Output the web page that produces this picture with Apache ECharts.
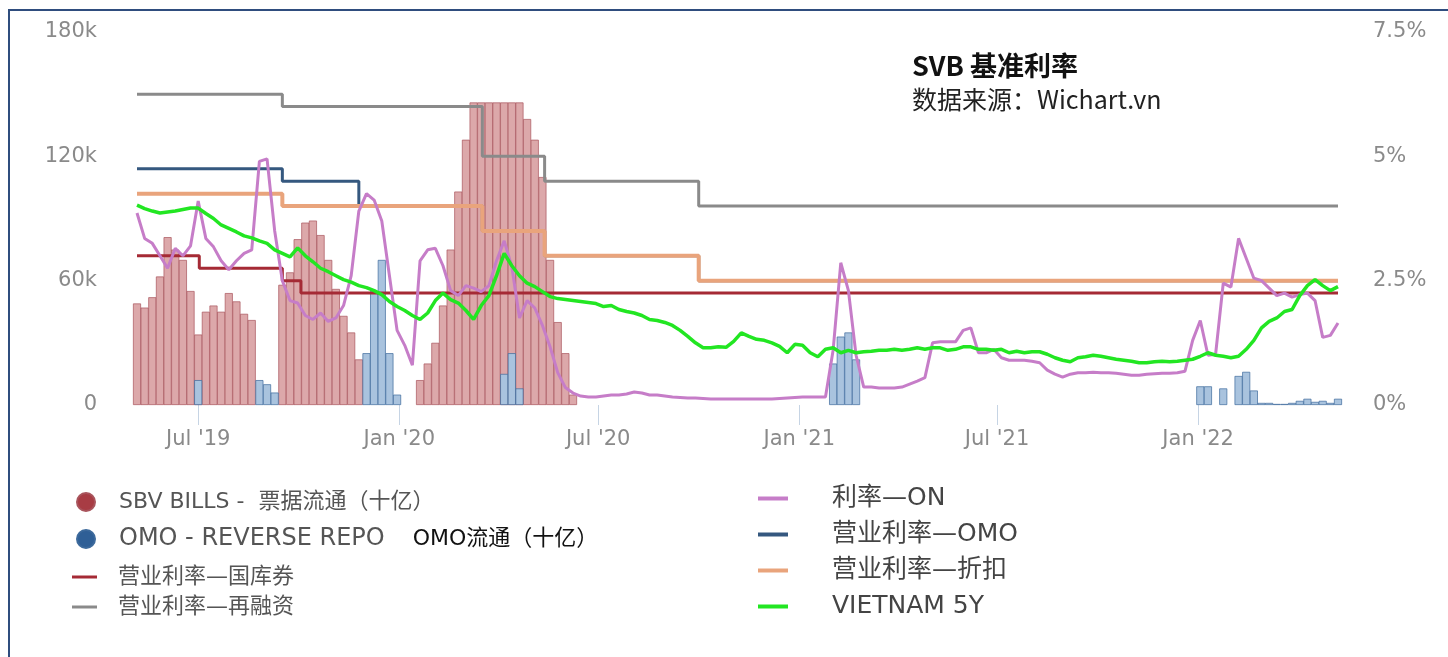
<!DOCTYPE html>
<html>
<head>
<meta charset="utf-8">
<title>SVB 基准利率</title>
<script src="https://cdn.jsdelivr.net/npm/echarts@6/dist/echarts.min.js"></script>
<style>
  html, body { margin: 0; padding: 0; background: #fff; overflow: hidden; }
  main { width: 1448px; height: 657px; }
  .frame { position: absolute; left: 8px; top: 9px; width: 1460px; height: 670px; border-left: 2px solid #2f4d7e; border-top: 2px solid #2f4d7e; pointer-events: none; }
</style>
</head>
<body>
<main></main>
<div class="frame"></div>
<script>
// weekly values, one line per month, first week = 2019-05-06
const onRate = [
  3.86, 3.35, 3.25, 3.0,
  2.75, 3.15, 3.0, 3.2,
  4.1, 3.35, 3.18, 2.9, 2.72,
  2.9, 3.05, 3.12, 4.9,
  4.95, 3.5, 2.5, 2.1, 2.05,
  1.8, 1.72, 1.85, 1.68,
  1.75, 2.0, 2.6, 3.9,
  4.25, 4.12, 3.7, 2.6, 1.5,
  1.2, 0.8, 2.9, 3.12,
  3.15, 2.8, 2.3, 2.2,
  2.4, 2.35, 2.28, 2.4, 2.9,
  3.3, 2.78, 1.75, 2.1,
  1.95, 1.6, 1.17, 0.65,
  0.35, 0.24, 0.18, 0.16, 0.16,
  0.18, 0.2, 0.2, 0.22,
  0.26, 0.24, 0.2, 0.2, 0.18,
  0.16, 0.15, 0.14, 0.14,
  0.13, 0.12, 0.12, 0.12,
  0.12, 0.12, 0.12, 0.12, 0.12,
  0.12, 0.13, 0.14, 0.15,
  0.16, 0.16, 0.16, 0.16,
  1.1, 2.86, 2.3, 1.0,
  0.36, 0.36, 0.34, 0.34, 0.34,
  0.36, 0.42, 0.48, 0.55,
  1.25, 1.27, 1.27, 1.27, 1.5,
  1.55, 1.05, 1.05, 1.12,
  0.95, 0.9, 0.9, 0.9,
  0.88, 0.85, 0.7, 0.62, 0.56,
  0.62, 0.65, 0.65, 0.66,
  0.65, 0.65, 0.64, 0.62,
  0.6, 0.6, 0.62, 0.63, 0.64,
  0.64, 0.65, 0.68, 1.3,
  1.7, 1.0, 1.02, 2.45, 2.37,
  3.35, 2.95, 2.55, 2.5,
  2.35, 2.2, 2.25, 2.17,
  2.22, 2.25, 2.1, 1.36,
  1.4, 1.65
]

const vn5y = [
  4.02, 3.95, 3.9, 3.86,
  3.88, 3.9, 3.93, 3.96,
  3.96, 3.85, 3.75, 3.62, 3.55,
  3.48, 3.4, 3.36, 3.3,
  3.25, 3.12, 3.05, 2.98, 3.16,
  3.0, 2.88, 2.75, 2.68,
  2.6, 2.52, 2.47, 2.4,
  2.36, 2.3, 2.22, 2.08, 1.98,
  1.9, 1.8, 1.72, 1.85,
  2.1, 2.25, 2.12, 2.05,
  1.9, 1.72, 2.0, 2.2, 2.6,
  3.05, 2.8, 2.6, 2.45,
  2.38, 2.28, 2.18, 2.14,
  2.12, 2.1, 2.08, 2.06, 2.04,
  1.98, 2.0, 1.92, 1.88,
  1.85, 1.8, 1.72, 1.7, 1.66,
  1.6, 1.5, 1.38, 1.25,
  1.15, 1.15, 1.17, 1.16,
  1.28, 1.45, 1.38, 1.32, 1.3,
  1.25, 1.18, 1.05, 1.22,
  1.2, 1.05, 0.97, 1.12,
  1.15, 1.05, 1.1, 1.05,
  1.07, 1.08, 1.1, 1.1, 1.12,
  1.1, 1.12, 1.15, 1.12,
  1.15, 1.15, 1.1, 1.12, 1.17,
  1.17, 1.12, 1.12, 1.1,
  1.12, 1.05, 1.08, 1.05,
  1.07, 1.07, 1.02, 0.95, 0.9,
  0.87, 0.95, 0.97, 1.0,
  0.98, 0.95, 0.92, 0.9,
  0.88, 0.85, 0.85, 0.87, 0.88,
  0.87, 0.88, 0.9, 0.92,
  0.98, 1.05, 1.0, 0.98, 0.95,
  0.98, 1.12, 1.3, 1.55,
  1.68, 1.75, 1.88, 1.92,
  2.2, 2.4, 2.52, 2.4,
  2.3, 2.38
]

// 票据流通, thousand bn VND, weekly from 2019-05-06 to 2020-06-29
const sbvBills = [
  49, 47, 52, 62,
  81, 75, 70, 55,
  34, 45, 48, 45, 54,
  50, 44, 41, 0,
  0, 0, 58, 64, 80,
  88, 89, 82, 70,
  56, 43, 35, 22,
  0, 0, 0, 0, 0,
  0, 0, 12, 20,
  30, 48, 75, 103,
  128, 146, 146, 146, 146,
  146, 146, 146, 138,
  128, 110, 70, 40,
  25, 5, 0, 0, 0
]

const omoVolume = [
  0, 0, 0, 0,
  0, 0, 0, 0,
  12, 0, 0, 0, 0,
  0, 0, 0, 12,
  10, 6, 0, 0, 0,
  0, 0, 0, 0,
  0, 0, 0, 0,
  25, 55, 70, 25, 5,
  0, 0, 0, 0,
  0, 0, 0, 0,
  0, 0, 0, 0, 0,
  15, 25, 8, 0,
  0, 0, 0, 0,
  0, 0, 0, 0, 0,
  0, 0, 0, 0,
  0, 0, 0, 0, 0,
  0, 0, 0, 0,
  0, 0, 0, 0,
  0, 0, 0, 0, 0,
  0, 0, 0, 0,
  0, 0, 0, 0,
  20, 33, 35, 22,
  0, 0, 0, 0, 0,
  0, 0, 0, 0,
  0, 0, 0, 0, 0,
  0, 0, 0, 0,
  0, 0, 0, 0,
  0, 0, 0, 0, 0,
  0, 0, 0, 0,
  0, 0, 0, 0,
  0, 0, 0, 0, 0,
  0, 0, 0, 0,
  9, 9, 0, 8, 0,
  14, 16, 7, 1,
  1, 0.5, 0.5, 1,
  2, 3, 1.5, 2,
  1, 3
]

// policy rates (%), change dates
const tbillRate = [['2019-05-06', 3.0], ['2019-07-02', 2.75], ['2019-09-16', 2.5], ['2019-10-03', 2.25], ['2022-05-09', 2.25]]
const refiRate = [['2019-05-06', 6.25], ['2019-09-16', 6.0], ['2020-03-17', 5.0], ['2020-05-13', 4.5], ['2020-10-01', 4.0], ['2022-05-09', 4.0]]
const omoRate = [['2019-05-06', 4.75], ['2019-09-16', 4.5], ['2019-11-25', 4.0], ['2020-03-17', 3.5], ['2020-05-13', 3.0], ['2020-10-01', 2.5], ['2022-05-09', 2.5]]
const discRate = [['2019-05-06', 4.25], ['2019-09-16', 4.0], ['2020-03-17', 3.5], ['2020-05-13', 3.0], ['2020-10-01', 2.5], ['2022-05-09', 2.5]]

const xTicks = ['2019-07-01', '2020-01-01', '2020-07-01', '2021-01-01', '2021-07-01', '2022-01-01']

const N = {
  bills: 'SBV BILLS -  票据流通（十亿）',
  omo: 'OMO - REVERSE REPO',
  tb: '营业利率—国库券',
  refi: '营业利率—再融资',
  on: '利率—ON',
  omoRate: '营业利率—OMO',
  disc: '营业利率—折扣',
  vn5y: 'VIETNAM 5Y',
}

const weeks = []
for (let d = new Date(2019, 4, 6); weeks.length < onRate.length; d.setDate(d.getDate() + 7)) weeks.push(+d)
const local = (s) => +new Date(s + 'T00:00:00')
const byWeek = (vals, keepZero) => vals.map((v, i) => [weeks[i], keepZero || v ? v : null])
const steps = (pts) => pts.map(([d, v]) => [local(d), v])
const tickValues = xTicks.map(local)

const FONT = '"Noto Sans CJK SC", "Noto Sans", sans-serif'
const LEGEND_FONT = '"DejaVu Sans", "Noto Sans CJK SC", sans-serif'
const AXIS_FONT = '"DejaVu Sans", sans-serif'

const chart = echarts.init(document.querySelector('main'))

const stepLine = (name, data, color, width) => ({
  name, type: 'line', yAxisIndex: 1, step: 'end', data: steps(data), color,
  showSymbol: false, symbol: 'none', lineStyle: { color, width }, z: 3,
})

chart.setOption({
  animation: false,
  title: {
    text: 'SVB 基准利率',
    subtext: '数据来源：Wichart.vn',
    left: 912, top: 52, padding: 0, itemGap: 8,
    textStyle: { fontFamily: FONT, fontSize: 27, fontWeight: 'bold', color: '#111' },
    subtextStyle: { fontFamily: FONT, fontSize: 25, color: '#222' },
  },
  grid: { left: 137, right: 110, top: 32, bottom: 252, outerBoundsMode: 'none' },
  legend: [
    {
      data: [{ name: N.bills, itemStyle: { color: '#a83c44' } }, { name: N.omo, itemStyle: { color: '#2f5f96' } }],
      orient: 'vertical', left: 76, top: 491, padding: 0, icon: 'circle', itemWidth: 18, itemHeight: 18, itemGap: 14,
      selectedMode: false,
      formatter: (name) => name === N.omo ? '{g|' + name + '}{k|    OMO流通（十亿）}' : name,
      textStyle: {
        fontFamily: LEGEND_FONT, fontSize: 22, color: '#555', padding: [0, 0, 0, 19],
        rich: { g: { fontFamily: LEGEND_FONT, fontSize: 24, color: '#555' }, k: { fontFamily: LEGEND_FONT, fontSize: 22, color: '#111' } },
      },
    },
    {
      data: [N.tb, N.refi],
      orient: 'vertical', left: 72, top: 566, padding: 0, icon: 'rect', itemWidth: 25, itemHeight: 3, itemGap: 8,
      selectedMode: false,
      textStyle: { fontFamily: LEGEND_FONT, fontSize: 22, color: '#555', padding: [0, 0, 0, 16] },
    },
    {
      data: [N.on, N.omoRate, N.disc, N.vn5y],
      orient: 'vertical', left: 758, top: 486, padding: 0, icon: 'rect', itemWidth: 30, itemHeight: 4, itemGap: 11,
      selectedMode: false,
      textStyle: { fontFamily: LEGEND_FONT, fontSize: 25, color: '#444', padding: [0, 0, 0, 39] },
    },
  ],
  xAxis: {
    type: 'value',
    min: weeks[0],
    max: weeks[weeks.length - 1],
    axisLine: { show: false },
    splitLine: { show: false },
    axisTick: { show: true, customValues: tickValues, length: 20, lineStyle: { color: '#c6d4e4', width: 1 } },
    axisLabel: {
      customValues: tickValues,
      margin: 24,
      color: '#8a8a8a',
      fontFamily: AXIS_FONT,
      fontSize: 21,
      formatter: (v) => {
        const d = new Date(v)
        return (d.getMonth() === 0 ? 'Jan' : 'Jul') + " '" + String(d.getFullYear()).slice(2)
      },
    },
  },
  yAxis: [
    {
      type: 'value', min: 0, max: 180, interval: 60,
      axisLine: { show: false }, axisTick: { show: false }, splitLine: { show: false },
      axisLabel: { formatter: (v) => (v ? v + 'k' : '0'), color: '#8a8a8a', fontFamily: AXIS_FONT, fontSize: 21, margin: 40 },
    },
    {
      type: 'value', min: 0, max: 7.5, interval: 2.5, position: 'right',
      axisLine: { show: false }, axisTick: { show: false }, splitLine: { show: false },
      axisLabel: { formatter: (v) => v + '%', color: '#8a8a8a', fontFamily: AXIS_FONT, fontSize: 21, margin: 35 },
    },
  ],
  series: [
    {
      name: N.bills, type: 'bar', yAxisIndex: 0, data: byWeek(sbvBills),
      barWidth: 8, barGap: '-100%', z: 1,
      itemStyle: { color: '#dca8aa', borderColor: '#a9545c', borderWidth: 0.7 },
    },
    {
      name: N.omo, type: 'bar', yAxisIndex: 0, data: byWeek(omoVolume),
      barWidth: 8, barGap: '-100%', z: 1,
      itemStyle: { color: '#a9c3de', borderColor: '#3d6a9c', borderWidth: 0.7 },
    },
    stepLine(N.tb, tbillRate, '#a52a35', 3),
    stepLine(N.refi, refiRate, '#8a8a8a', 3),
    stepLine(N.omoRate, omoRate, '#35587f', 3),
    stepLine(N.disc, discRate, '#e9a47c', 4),
    {
      name: N.on, type: 'line', yAxisIndex: 1, data: byWeek(onRate, true), color: '#c67dc8',
      showSymbol: false, symbol: 'none', lineStyle: { color: '#c67dc8', width: 3 }, z: 4,
    },
    {
      name: N.vn5y, type: 'line', yAxisIndex: 1, data: byWeek(vn5y, true), color: '#22e622',
      showSymbol: false, symbol: 'none', lineStyle: { color: '#22e622', width: 3.5 }, z: 5,
    },
  ],
})
</script>
</body>
</html>
